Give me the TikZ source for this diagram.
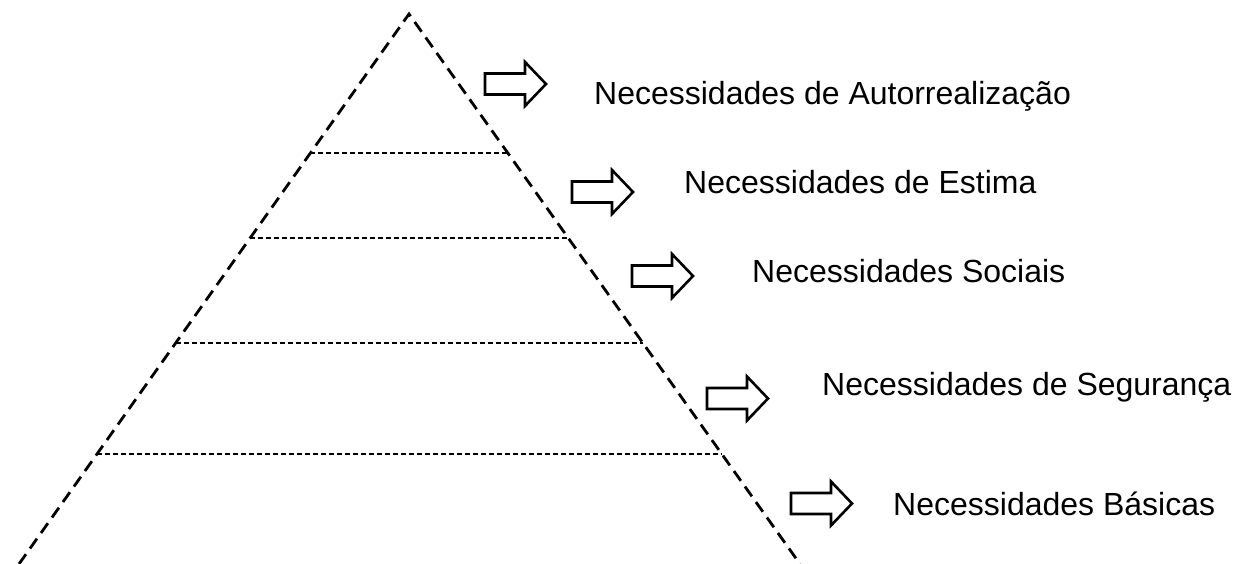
\documentclass[tikz,border=0pt]{standalone}
\usepackage{fontspec}
\setmainfont{Liberation Sans}
\usetikzlibrary{calc}
\tikzset{
  side/.style={line width=2.8pt, dash pattern=on 12pt off 7pt},
  level/.style={line width=1.3pt, dash pattern=on 5pt off 3pt},
  barrowstyle/.style={line width=2.6pt, line join=miter, fill=white},
  label/.style={anchor=base west, inner sep=0pt, font=\fontsize{32}{38}\selectfont}
}
\newcommand{\blockarr}[3]{%
  \draw[barrowstyle] (#1,#2-10.5) -- (#1+40,#2-10.5) -- (#1+40,#2-22) -- (#1+61,#2)
    -- (#1+40,#2+22) -- (#1+40,#2+10.5) -- (#1,#2+10.5) -- cycle;
  \coordinate (#3) at (#1+61,#2);}
\begin{document}
\begin{tikzpicture}[x=1pt,y=-1pt]
\useasboundingbox (0,0) rectangle (1237,564);
\coordinate (apex) at (409,14);
\coordinate (bl) at (19,564);
\coordinate (br) at (800,564);
\draw[side] (bl) -- (apex) -- (br);
\foreach \f/\n in {0.2527/a,0.4073/b,0.5982/c,0.8/d}{
  \coordinate (l\n) at ($(apex)!\f!(bl)$);
  \coordinate (r\n) at ($(apex)!\f!(br)$);
  \draw[level] (l\n) -- (r\n);
}
\blockarr{485}{84}{t1}
\blockarr{572}{192}{t2}
\blockarr{632}{276}{t3}
\blockarr{707}{398.5}{t4}
\blockarr{791}{503.5}{t5}
\node[label] (n1) at (594,105) {Necessidades de Autorrealização};
\node[label] (n2) at (684,194) {Necessidades de Estima};
\node[label] (n3) at (752,282) {Necessidades Sociais};
\node[label] (n4) at (822,395) {Necessidades de Segurança};
\node[label] (n5) at (893,515) {Necessidades Básicas};
\end{tikzpicture}
\end{document}
